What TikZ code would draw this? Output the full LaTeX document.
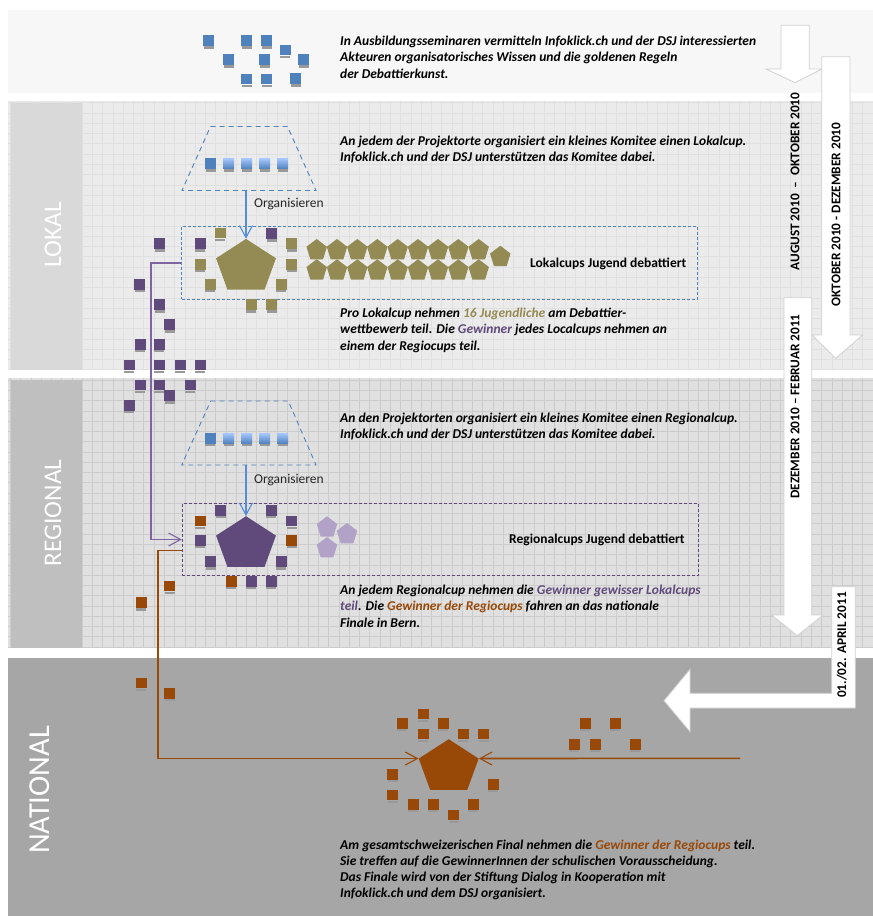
\documentclass[tikz,border=0pt]{standalone}
\usepackage{fontspec}
\setmainfont{Carlito}
\usetikzlibrary{positioning,shapes,arrows.meta}

\definecolor{infoblue}{HTML}{4F81BD}
\definecolor{arrowblue}{HTML}{558ED5}
\definecolor{lightblue}{HTML}{A6C8FF}
\definecolor{lokalolive}{HTML}{948A54}
\definecolor{winnerpurple}{HTML}{604A7B}
\definecolor{linepurple}{HTML}{8064A2}
\definecolor{palepurple}{HTML}{B3A2C7}
\definecolor{finalbrown}{HTML}{984807}

\tikzset{
	panelgrid/.style={draw=black!12, line width=0.6pt, xstep=10.27pt, ystep=10.27pt},
	regiogrid/.style={draw=black!20, line width=0.6pt, xstep=10.27pt, ystep=10.27pt},
	blockarrow/.style={fill=white, draw=black!18, line width=0.8pt},
	infotext/.style={anchor=north west, inner sep=0pt, align=left,
		font=\fontsize{13.5}{16.2}\selectfont\bfseries\itshape},
	titletext/.style={anchor=west, inner sep=0pt, font=\fontsize{13.5}{16}\selectfont\bfseries},
	datetext/.style={rotate=90, inner sep=0pt, font=\fontsize{13.3}{16}\selectfont\bfseries},
	leveltext/.style={rotate=90, inner sep=0pt, text=white},
	person/.style={minimum width=11pt, minimum height=10.5pt, inner sep=0pt, fill=#1},
	komitee/.style={draw=infoblue, dash pattern=on 5pt off 4pt, line width=0.9pt},
	cupbox/.style={draw=#1, densely dashed, line width=0.9pt, minimum width=516pt, minimum height=72.5pt,
		inner sep=0pt},
	bigpent/.style={regular polygon, regular polygon sides=5, minimum size=63pt, inner sep=0pt,
		transform shape, yscale=0.89, anchor=corner 1, fill=#1},
	smallpent/.style={regular polygon, regular polygon sides=5, minimum size=21.5pt, inner sep=0pt,
		transform shape, yscale=1.05, anchor=corner 1, fill=#1},
	cuparrow/.style={draw=#1, line width=1.6pt, -{Straight Barb[length=12pt,width=13pt,line width=1.1pt]}},
	organise/.style={right=4pt, font=\fontsize{13.5}{16}\selectfont, text=black!85},
}

% square with its small caption bar
\newcommand{\person}[4]{%
\fill[black!40] (#2-5,#3+5.5) rectangle (#2+5,#3+8);
\node [person=#4] (#1) at (#2,#3) {};%
}

\begin{document}
\begin{tikzpicture}[x=1pt,y=-1pt]
\useasboundingbox (0,0) rectangle (873,916);

% Panels
\fill[black!3] (8,10) rectangle (873,93);
\fill[black!8] (8,101) rectangle (873,370);
\draw[panelgrid] (8,101) grid (873,370);
\fill[black!15] (11,103) rectangle (82,370);
\fill[black!12] (8,378) rectangle (873,648);
\draw[regiogrid] (8,378) grid (873,648);
\fill[black!25] (11,380) rectangle (82,648);
\fill[black!35] (8,658) rectangle (873,916);

\node [leveltext, font=\fontsize{25.4}{26}\selectfont] (lokal) at (53,235) {LOKAL};
\node [leveltext, font=\fontsize{25.4}{26}\selectfont] (regional) at (53,513) {REGIONAL};
\node [leveltext, font=\fontsize{30.5}{31}\selectfont] (national) at (40,790) {NATIONAL};

% Block arrows
\draw[blockarrow] (781,25.3) -- (809.3,25.3) -- (809.3,69) -- (822,69) -- (795,82.7) -- (766,69) -- (781,69) -- cycle;
\draw[blockarrow] (821.7,56.7) -- (850,56.7) -- (850,335) -- (862.7,335) -- (835.7,358.3) -- (812,335) -- (821.7,335) -- cycle;
\draw[blockarrow] (784,297.7) -- (811.7,297.7) -- (811.7,615) -- (823,615) -- (797.3,635.7) -- (771.7,615) -- (784,615) -- cycle;
\draw[blockarrow] (831.7,586.7) -- (855.3,586.7) -- (855.3,708) -- (690,708) -- (690,731.7) -- (664,700.7) -- (690,669.3) -- (690,693.3) -- (831.7,693.3) -- cycle;

\node [datetext] (date1) at (795,181.5) {AUGUST 2010 \ -- \ OKTOBER 2010};
\node [datetext] (date2) at (836,214.5) {OKTOBER 2010 - DEZEMBER 2010};
\node [datetext] (date3) at (795,406.5) {DEZEMBER 2010 -- FEBRUAR 2011};
\node [datetext] (date4) at (841.7,645) {01./02. APRIL 2011};

% Seminar
\foreach \x/\y [count=\i] in {208.5/40.5, 246.5/40.5, 266.5/40.5, 285/50, 228.5/59.5, 264.5/59.5, 303.5/59.5, 246.5/79, 266.5/79, 295.5/78.5}
	{\person{seminar\i}{\x}{\y}{infoblue}}

\node [infotext] (seminartext) at (340,36) {In Ausbildungsseminaren vermitteln Infoklick.ch und der DSJ interessierten\\
Akteuren organisatorisches Wissen und die goldenen Regeln\\
der Debattierkunst.};

% Lokal
\draw[komitee] (210.5,126.5) -- (287.5,126.5) -- (316,190.5) -- (182,190.5) -- cycle;
\coordinate (lokalkomitee) at (246,190.5);
\person{lokalorg}{210.5}{163.5}{infoblue}
\foreach \x [count=\i] in {228.5,246.5,264.5,282.5} {
	\fill[black!40] (\x-5,169) rectangle (\x+5,171.5);
	\node [person=none, top color=lightblue, bottom color=infoblue] (lokalgrad\i) at (\x,163.5) {};
}
\node [cupbox=infoblue] (lokalbox) at (439.7,262.7) {};
\node [bigpent=lokalolive] (lokalpent) at (246,238.7) {};
\node [smallpent=lokalolive] (lokalextra) at (500.3,245.5) {};
\foreach \x [count=\i] in {316.7,337,357.3,377.3,397.7,418,438,458.3,478.7} {
	\node [smallpent=lokalolive] (lokalup\i) at (\x,238.7) {};
	\node [smallpent=lokalolive] (lokaldown\i) at (\x,259) {};
}
\foreach \x/\y [count=\i] in {220.3/233, 291.7/243.7, 200/264.3, 291.7/264.3, 210.3/284.3, 281/284.3, 251/304.5, 271.5/304.5}
	{\person{lokalolive\i}{\x}{\y}{lokalolive}}
\foreach \x/\y [count=\i] in {271.7/233.5, 200/243.7, 159.7/243.7, 139.7/284.3, 159.5/304.5, 169.7/324.7, 140/344.3, 159.3/344.3, 129.3/365, 159.3/365, 180.3/365, 200/365, 140/385, 159.3/385, 190.3/385, 169.7/395.7, 129.3/405.3}
	{\person{lokalwin\i}{\x}{\y}{winnerpurple}}

\node [infotext] (lokaltext) at (340,135.5) {An jedem der Projektorte organisiert ein kleines Komitee einen Lokalcup.\\
Infoklick.ch und der DSJ unterstützen das Komitee dabei.};
\node [infotext] (lokalnote) at (340,308) {Pro Lokalcup nehmen \textcolor{lokalolive}{16 Jugendliche} am Debattier-\\
wettbewerb teil. Die \textcolor{winnerpurple}{Gewinner} jedes Localcups nehmen an\\
einem der Regiocups teil.};
\node [titletext] (lokaltitle) at (530,264) {Lokalcups Jugend debattiert};

\coordinate (purpleturn) at (150.7,400);
\draw[cuparrow=arrowblue] (lokalkomitee) -- (lokalpent.corner 1) node[pos=0.27,organise] (lokalorganise) {Organisieren};

% Regional
\draw[komitee] (210.7,401) -- (288.3,401) -- (316,465) -- (181.7,465) -- cycle;
\coordinate (regiokomitee) at (246,465);
\person{regioorg}{210.3}{438.3}{infoblue}
\foreach \x [count=\i] in {228.5,246.5,264.5,282.5} {
	\fill[black!40] (\x-5,443.8) rectangle (\x+5,446.3);
	\node [person=none, top color=lightblue, bottom color=infoblue] (regiograd\i) at (\x,438.3) {};
}
\node [cupbox=winnerpurple] (regiobox) at (440.2,539.5) {};
\node [bigpent=winnerpurple] (regiopent) at (246,516) {};
\node [smallpent=palepurple] (regiopale1) at (327,516) {};
\node [smallpent=palepurple] (regiopale2) at (347,522.7) {};
\node [smallpent=palepurple] (regiopale3) at (327,536.7) {};
\foreach \x/\y [count=\i] in {220.7/510.3, 271.3/510.3, 291.7/521, 200.3/540.3, 210.7/561.7, 281.3/561.7, 251.3/581.3, 271.3/581.3}
	{\person{regiowin\i}{\x}{\y}{winnerpurple}}
\foreach \x/\y [count=\i] in {200.3/521, 291.7/540.3, 231/581.3, 169.7/586, 141.3/602.7}
	{\person{regiofin\i}{\x}{\y}{finalbrown}}

\node [infotext] (regiotext) at (340,412.5) {An den Projektorten organisiert ein kleines Komitee einen Regionalcup.\\
Infoklick.ch und der DSJ unterstützen das Komitee dabei.};
\node [infotext] (regionote) at (340,585) {An jedem Regionalcup nehmen die \textcolor{winnerpurple}{Gewinner gewisser Lokalcups}\\
\textcolor{winnerpurple}{teil}. Die \textcolor{finalbrown}{Gewinner der Regiocups} fahren an das nationale\\
Finale in Bern.};
\node [titletext] (regiotitle) at (509,540) {Regionalcups Jugend debattiert};

\draw[cuparrow=arrowblue] (regiokomitee) -- (regiopent.corner 1) node[pos=0.29,organise] (regioorganise) {Organisieren};
\draw[cuparrow=linepurple] (lokalbox.west) -| (purpleturn) |- (regiobox.west);

% National
\node [bigpent=finalbrown] (natpent) at (448.7,739) {};
\foreach \x/\y [count=\i] in {141.3/683, 169.7/693.3, 402.3/723.3, 423/714, 443.3/723.3, 423/734, 463.3/734, 483.7/734, 392.7/774.3, 493.3/784.3, 392.7/795, 413.3/804.3, 433.3/804.3, 473.3/804.3, 453.7/815, 585.3/723.3, 615.3/723.3, 574.3/744.3, 595/744.3, 635.3/744.3}
	{\person{natfin\i}{\x}{\y}{finalbrown}}

\node [infotext] (nattext) at (340,839.5) {Am gesamtschweizerischen Final nehmen die \textcolor{finalbrown}{Gewinner der Regiocups} teil.\\
Sie treffen auf die GewinnerInnen der schulischen Vorausscheidung.\\
Das Finale wird von der Stiftung Dialog in Kooperation mit\\
Infoklick.ch und dem DSJ organisiert.};

\coordinate (brownturn) at (158,650);
\coordinate (schoolstart) at (740,758.3);
\draw[cuparrow=finalbrown] ([yshift=-11pt]regiobox.west) -| (brownturn) |- (natpent.corner 2);
\draw[cuparrow=finalbrown] (schoolstart) -- (natpent.corner 5);

\end{tikzpicture}
\end{document}
